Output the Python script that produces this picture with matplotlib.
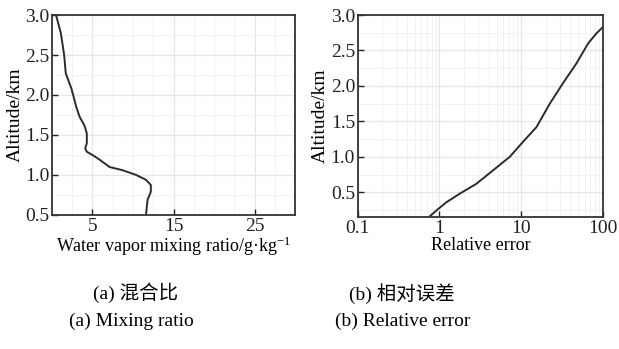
import matplotlib.pyplot as plt
import numpy as np

# (a) water vapor mixing ratio profile (g/kg vs km)
mix_ratio = [0.5, 1.1, 1.5, 1.7, 2.4, 3.0, 3.4, 4.0, 4.3, 4.3, 4.1, 4.3,
             5.0, 5.9, 7.1, 8.7, 10.4, 11.6, 12.2, 12.2, 11.8, 11.6]
mix_alt = [3.0, 2.77, 2.5, 2.27, 2.08, 1.85, 1.73, 1.62, 1.52, 1.40, 1.33, 1.29,
           1.25, 1.19, 1.10, 1.06, 1.00, 0.94, 0.875, 0.79, 0.69, 0.5]

# (b) relative error profile
rel_err = [0.76, 0.92, 1.22, 1.77, 2.83, 4.53, 7.25, 10.5, 15.4, 22.4, 32.5,
           47.6, 66, 83, 100]
err_alt = [0.16, 0.245, 0.36, 0.48, 0.62, 0.81, 1.0, 1.21, 1.42, 1.75, 2.04,
           2.32, 2.6, 2.74, 2.83]

serif = ['Liberation Serif', 'DejaVu Serif']
cjk = ['Liberation Serif', 'Noto Sans CJK SC', 'DejaVu Sans']
plt.rcParams['font.family'] = serif
plt.rcParams['mathtext.fontset'] = 'custom'
plt.rcParams['mathtext.rm'] = 'Liberation Serif'
plt.rcParams['mathtext.it'] = 'Liberation Serif:italic'
plt.rcParams['mathtext.bf'] = 'Liberation Serif:bold'

line_color = '#2b2b2b'
grid_color = '#e6e6e6'

fig = plt.figure(figsize=(6.19, 3.49), dpi=100)
ax1 = fig.add_axes([0.084, 0.384, 0.3926, 0.573])
ax2 = fig.add_axes([0.578, 0.378, 0.396, 0.579])

ax1.plot(mix_ratio, mix_alt, color=line_color, lw=1.4)
ax1.set_xlim(0, 30)
ax1.set_ylim(0.5, 3.0)
ax1.set_xticks([5, 15, 25])
ax1.set_xticks(np.arange(0, 30.1, 2.5), minor=True)
ax1.set_yticks(np.arange(0.5, 3.01, 0.5))
ax1.set_yticks(np.arange(0.5, 3.01, 0.25), minor=True)
ax1.set_yticklabels(['0.5', '1.0', '1.5', '2.0', '2.5', '3.0'])
ax1.set_xlabel(r'Water vapor mixing ratio/g·kg$^{\mathrm{-1}}$', fontsize=13, labelpad=0)
ax1.set_ylabel('Altitude/km', fontsize=14, labelpad=1)

ax2.plot(rel_err, err_alt, color=line_color, lw=1.4)
ax2.set_xscale('log')
ax2.set_xlim(0.1, 100)
ax2.set_ylim(0.15, 3.0)
ax2.set_xticks([0.1, 1, 10, 100])
ax2.set_xticklabels(['0.1', '1', '10', '100'])
ax2.set_yticks(np.arange(0.5, 3.01, 0.5))
ax2.set_yticks(np.arange(0.25, 3.01, 0.25), minor=True)
ax2.set_yticklabels(['0.5', '1.0', '1.5', '2.0', '2.5', '3.0'])
ax2.set_xlabel('Relative error', fontsize=13, labelpad=0)
ax2.set_ylabel('Altitude/km', fontsize=14, labelpad=1)

for ax in (ax1, ax2):
    ax.grid(True, which='major', color=grid_color, lw=0.9)
    ax.grid(True, which='minor', color='#f2f2f2', lw=0.7)
    ax.set_axisbelow(True)
    ax.tick_params(which='major', direction='in', length=4, width=1,
                   labelsize=14, pad=2, colors='#222222')
    ax.tick_params(which='minor', length=0)
    for s in ax.spines.values():
        s.set_color('#333333')
        s.set_linewidth(1.3)

fig.text(0.219, 0.16, '(a) 混合比', ha='center', va='center', fontsize=14, family=cjk)
fig.text(0.65, 0.16, '(b) 相对误差', ha='center', va='center', fontsize=14, family=cjk)
fig.text(0.212, 0.08, '(a) Mixing ratio', ha='center', va='center', fontsize=14)
fig.text(0.651, 0.08, '(b) Relative error', ha='center', va='center', fontsize=14)

fig.savefig('out.png', dpi=100)
